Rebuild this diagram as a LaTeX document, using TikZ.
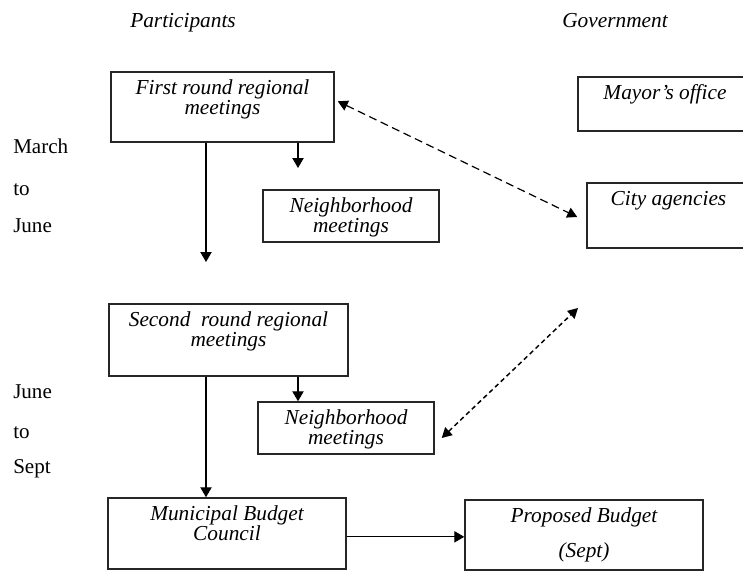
\documentclass[tikz,border=0pt]{standalone}
\usepackage{fontspec}
\setmainfont{Liberation Serif}
\usetikzlibrary{arrows.meta,positioning}

\begin{document}
\begin{tikzpicture}[x=0.75pt,y=-0.75pt,font=\fontsize{15.8}{15}\selectfont]
    \tikzstyle{stagebox} = [draw=black!85, line width=1.1pt, inner sep=0pt]
    \tikzstyle{boxtext} = [align=center, inner sep=0pt, font=\fontsize{16}{15}\selectfont\itshape]
    \tikzstyle{period} = [anchor=base west, inner sep=0pt]
    \tikzstyle{flowarrow} = [line width=0.8pt, -{Triangle[length=7.5pt,width=8.5pt]}]
    \tikzstyle{linkarrow} = [line width=0.9pt, dash pattern=on 6pt off 3.5pt, {Triangle[length=7.5pt,width=8pt]}-{Triangle[length=7.5pt,width=8pt]}]
    \tikzstyle{linkarrowfine} = [line width=1.1pt, dash pattern=on 3.5pt off 2.5pt, {Triangle[length=7.5pt,width=8pt]}-{Triangle[length=7.5pt,width=8pt]}]

    \useasboundingbox (0,0) rectangle (743,571);
    \clip (0,0) rectangle (743,571);

    % Column heads
    \node [boxtext, anchor=base] (parthead) at (183,27) {Participants};
    \node [boxtext, anchor=base] (govhead) at (615,27) {Government};

    % Participants side
    \node [stagebox, minimum width=167.25pt, minimum height=52.5pt] (first) at (222.5,107) {};
    \node [boxtext, below=6.3pt of first.north] (firsttext) {First round regional\\meetings};
    \node [stagebox, minimum width=132pt, minimum height=39pt] (nbhone) at (351,216) {};
    \node [boxtext, below=6.3pt of nbhone.north] (nbhonetext) {Neighborhood\\meetings};

    \node [stagebox, minimum width=179.25pt, minimum height=54pt] (second) at (228.5,340) {};
    \node [boxtext, below=6.3pt of second.north] (secondtext) {Second~ round regional\\meetings};
    \node [stagebox, minimum width=132pt, minimum height=39pt] (nbhtwo) at (346,428) {};
    \node [boxtext, below=6.3pt of nbhtwo.north] (nbhtwotext) {Neighborhood\\meetings};

    \node [stagebox, minimum width=178.5pt, minimum height=53.25pt] (council) at (227,533.5) {};
    \node [boxtext, below=6.3pt of council.north] (counciltext) {Municipal Budget\\Council};
    \node [stagebox, minimum width=178.5pt, minimum height=52.5pt] (proposed) at (584,535) {};
    \node [boxtext, below=6.3pt of proposed.north] (proposedtext) {Proposed Budget\\[11pt](Sept)};

    % Government side
    \node [stagebox, minimum width=130.5pt, minimum height=40.5pt] (mayor) at (665,104) {};
    \node [boxtext, below=6.3pt of mayor.north] (mayortext) {Mayor’s office};
    \node [stagebox, minimum width=122.25pt, minimum height=48.75pt] (city) at (668.5,215.5) {};
    \node [boxtext, below=6.3pt of city.north] (citytext) {City agencies};

    % Periods
    \node [period] (marchlbl) at (13,153) {March};
    \node [period] (tolblone) at (13,195) {to};
    \node [period] (junelblone) at (13,232) {June};
    \node [period] (junelbltwo) at (13,398) {June};
    \node [period] (tolbltwo) at (13,438) {to};
    \node [period] (septlbl) at (13,473) {Sept};

    % Arrows
    \coordinate (firstdrop) at (206,262);
    \coordinate (nbhdrop) at (298,168);
    \coordinate (cityfree) at (578,308);
    \draw [flowarrow] (first.south -| firstdrop) -- (firstdrop);
    \draw [flowarrow] (first.south -| nbhdrop) -- (nbhdrop);
    \draw [flowarrow] (second.south -| firstdrop) -- (council.north -| firstdrop);
    \draw [flowarrow] (second.south -| nbhdrop) -- (nbhtwo.north -| nbhdrop);
    \draw [flowarrow] ([yshift=-2.5pt]council.east) -- ([yshift=-2.5pt]council.east -| proposed.west);
    \draw [linkarrow] ([shift={(3,30)}]first.north east) -- ([shift={(-9,1.5)}]city.west);
    \draw [linkarrowfine] ([shift={(7,10)}]nbhtwo.east) -- (cityfree);
\end{tikzpicture}
\end{document}
